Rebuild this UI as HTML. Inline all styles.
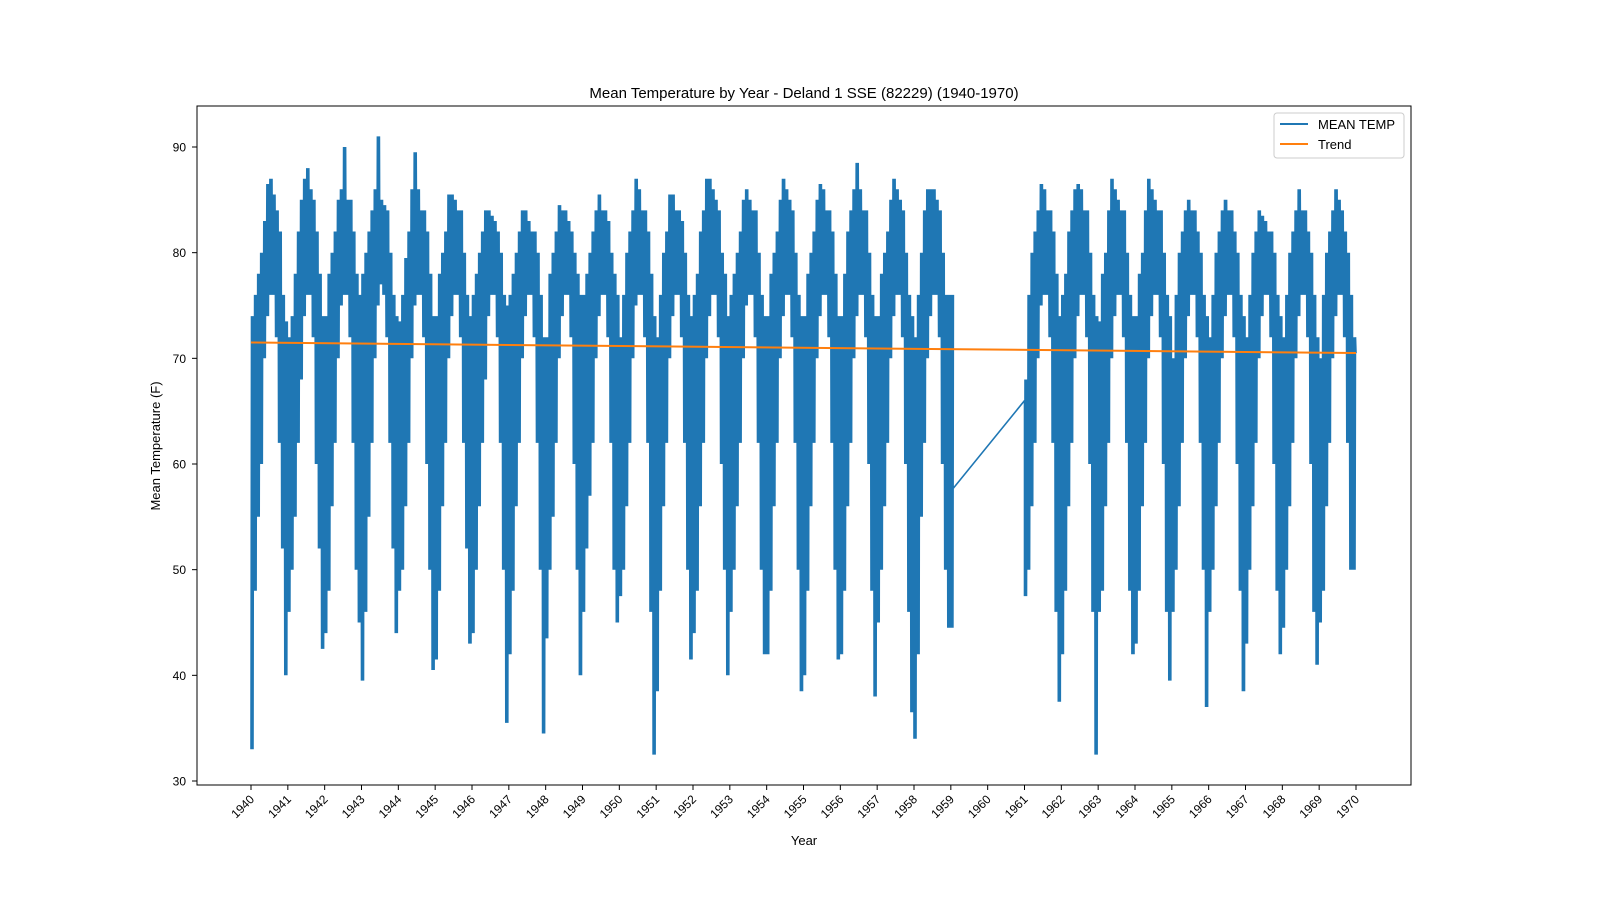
<!DOCTYPE html>
<html><head><meta charset="utf-8">
<style>
html,body{margin:0;padding:0;background:#fff;overflow:hidden;width:1600px;height:900px;}
svg{display:block;}
svg text{font-family:"Liberation Sans","DejaVu Sans",sans-serif;fill:#000;}
</style></head>
<body>
<svg id="chart" width="1600" height="900">
<rect width="1600" height="900" fill="#fff"/>
<text x="804" y="98" font-size="15" text-anchor="middle">Mean Temperature by Year - Deland 1 SSE (82229) (1940-1970)</text>
<g id="plot"></g>
<rect x="197" y="106" width="1214" height="679" fill="none" stroke="#000" stroke-width="1"/>
<g id="xaxis"></g><g id="yaxis"></g>
<text x="804" y="845" font-size="13" text-anchor="middle">Year</text>
<text transform="translate(160,446) rotate(-90)" font-size="13" text-anchor="middle">Mean Temperature (F)</text>
<g>
<rect x="1274" y="113" width="130" height="45" rx="3" fill="#fff" stroke="#ccc"/>
<g><line x1="1280" y1="124" x2="1308" y2="124" stroke="#1f77b4" stroke-width="2"/><text x="1318" y="129" font-size="13">MEAN TEMP</text></g>
<g><line x1="1280" y1="144" x2="1308" y2="144" stroke="#ff7f0e" stroke-width="2"/><text x="1318" y="149" font-size="13">Trend</text></g>
</g>
</svg>
<script>
// monthly low/high values per year (Jan..Dec)
const years = [1940,1941,1942,1943,1944,1945,1946,1947,1948,1949,1950,1951,1952,1953,1954,1955,1956,1957,1958,1961,1962,1963,1964,1965,1966,1967,1968,1969];
const monthLows = [
"33,48,55,60,70,74,76,76,72,62,52,40",
"46,50,55,62,68,74,76,76,72,60,52,42.5",
"44,48,56,62,70,75,76,76,72,62,50,45",
"39.5,46,55,62,70,75,77,76,72,62,52,44",
"48,50,56,62,70,75,76,76,72,60,50,40.5",
"41.5,48,56,62,70,74,76,76,72,62,52,43",
"44,50,56,62,68,74,76,76,72,62,50,35.5",
"42,48,56,62,70,74,76,76,72,62,50,34.5",
"43.5,50,55,62,70,74,76,76,72,60,50,40",
"46,52,57,62,70,74,76,76,72,62,50,45",
"47.5,50,56,62,70,75,76,76,72,62,46,32.5",
"38.5,48,56,62,70,74,76,76,72,62,50,41.5",
"44,48,56,62,70,74,76,76,72,60,50,40",
"46,50,56,62,70,75,76,76,72,62,50,42",
"42,48,56,62,70,74,76,76,72,62,50,38.5",
"40,48,56,62,70,74,76,76,72,62,50,41.5",
"42,48,56,62,70,74,76,76,72,60,48,38",
"45,50,56,62,70,74,76,76,72,60,46,36.5",
"34,42,55,62,70,74,76,76,72,60,50,44.5",
"47.5,50,56,62,70,75,76,76,72,62,46,37.5",
"42,48,56,62,70,74,76,76,72,60,46,32.5",
"46,48,56,62,70,74,76,76,72,62,48,42",
"43,48,56,62,70,74,76,76,72,60,46,39.5",
"46,50,56,62,70,74,76,76,72,62,50,37",
"46,50,56,62,70,74,76,76,72,60,48,38.5",
"43,50,56,62,70,74,76,76,72,60,48,42",
"44.5,50,56,62,70,74,76,76,72,60,46,41",
"45,48,56,62,70,74,76,76,72,62,50,50"];
const monthHighs = [
"74,76,78,80,83,86.5,87,85.5,84,82,76,73.5",
"72,74,78,82,85,87,88,86,85,82,78,74",
"74,78,80,82,85,86,90,85,85,82,78,76",
"78,80,82,84,86,91,85,84.5,84,80,76,74",
"73.5,76,79.5,82,86,89.5,86,84,84,82,78,74",
"74,78,80,82,85.5,85.5,85,84,84,80,76,74",
"76,78,80,82,84,84,83.5,83,82,80,76,75",
"76,78,80,82,84,84,83,82,82,80,76,72",
"72,78,80,82,84.5,84,84,83,82,80,78,76",
"76,78,80,82,84,85.5,84,84,83,80,78,76",
"72,76,80,82,84,87,86,84,84,82,78,74",
"72,76,80,82,85.5,85.5,84,84,83,80,76,74",
"76,78,82,84,87,87,86,85,84,80,78,74",
"76,78,80,82,85,86,85,84,84,80,76,74",
"74,78,80,82,85,87,86,85,84,80,76,74",
"74,78,80,82,85,86.5,86,84,84,82,78,74",
"74,78,82,84,86,88.5,86,84,84,80,76,74",
"74,78,80,82,85,87,86,85,84,80,76,74",
"72,76,80,84,86,86,86,85,84,80,76,76",
"68,76,80,82,84,86.5,86,84,84,82,78,74",
"76,78,82,84,86,86.5,86,84,84,80,76,74",
"73.5,78,80,84,87,86,85,84,84,80,76,74",
"74,78,80,84,87,86,85,84,84,80,76,74",
"70,76,80,82,84,85,84,84,82,80,76,74",
"72,76,80,82,84,85,84,84,82,80,76,74",
"72,76,80,82,84,83.5,83,82,82,80,76,74",
"72,76,80,82,84,86,84,84,82,80,76,72",
"70,76,80,82,84,86,85,84,82,80,76,72"];
const jan1959 = [44.5,76,57.5];
const gapEnd = [1961.0,66];
const finalPoint = [1970.0,70.5];
const trendStart = [1940,71.5];
const trendEnd = [1970,70.5];
const yTicks = [30,40,50,60,70,80,90];
const xTicks = [1940,1941,1942,1943,1944,1945,1946,1947,1948,1949,1950,1951,1952,1953,1954,1955,1956,1957,1958,1959,1960,1961,1962,1963,1964,1965,1966,1967,1968,1969,1970];

const NS="http://www.w3.org/2000/svg";
const xS = v => 251 + (v-1940)*(1356-251)/30;
const yS = v => 781 - (v-30)*(781-147)/60;
function mk(tag, attrs, parent){const e=document.createElementNS(NS,tag);for(const k in attrs)e.setAttribute(k,attrs[k]);parent.appendChild(e);return e;}

const plot=document.getElementById('plot');
let pts=[];
function addYear(yr, lows, highs){
  for(let m=0;m<12;m++){
    const n=6;
    for(let k=0;k<n;k++){
      const t=yr+(m+k/n)/12;
      const v=(k%2===0)?lows[m]:highs[m];
      pts.push(xS(t).toFixed(1)+','+yS(v).toFixed(1));
    }
  }
}
years.forEach((yr,i)=>{
  if(yr===1961){
    for(let k=0;k<6;k++){const t=1959+k/72;pts.push(xS(t).toFixed(1)+','+yS(k%2?jan1959[1]:jan1959[0]).toFixed(1));}
    pts.push(xS(1959.02).toFixed(1)+','+yS(jan1959[2]).toFixed(1));
    pts.push(xS(gapEnd[0]).toFixed(1)+','+yS(gapEnd[1]).toFixed(1));
  }
  addYear(yr, monthLows[i].split(',').map(Number), monthHighs[i].split(',').map(Number));
});
pts.push(xS(finalPoint[0]).toFixed(1)+','+yS(finalPoint[1]).toFixed(1));
const line=mk('polyline',{points:pts.join(' '),fill:'none',stroke:'#1f77b4','stroke-width':'1.6','stroke-linejoin':'miter'},plot);


const tr=mk('line',{x1:xS(trendStart[0]),y1:yS(trendStart[1]),x2:xS(trendEnd[0]),y2:yS(trendEnd[1]),stroke:'#ff7f0e','stroke-width':'2'},plot);



const xa=document.getElementById('xaxis');
xTicks.forEach(v=>{
  const x=xS(v);
  mk('line',{x1:x,y1:785,x2:x,y2:790,stroke:'#000'},xa);
  const t=mk('text',{x:x+4,y:800,'font-size':'12','text-anchor':'end',transform:`rotate(-45 ${x+4} 800)`},xa);
  t.textContent=v;
  
  
});
const ya=document.getElementById('yaxis');
yTicks.forEach(v=>{
  const y=yS(v);
  mk('line',{x1:192,y1:y,x2:197,y2:y,stroke:'#000'},ya);
  const t=mk('text',{x:186,y:y+4.5,'font-size':'12','text-anchor':'end'},ya);
  t.textContent=v;
  
  
});
</script>
</body></html>
